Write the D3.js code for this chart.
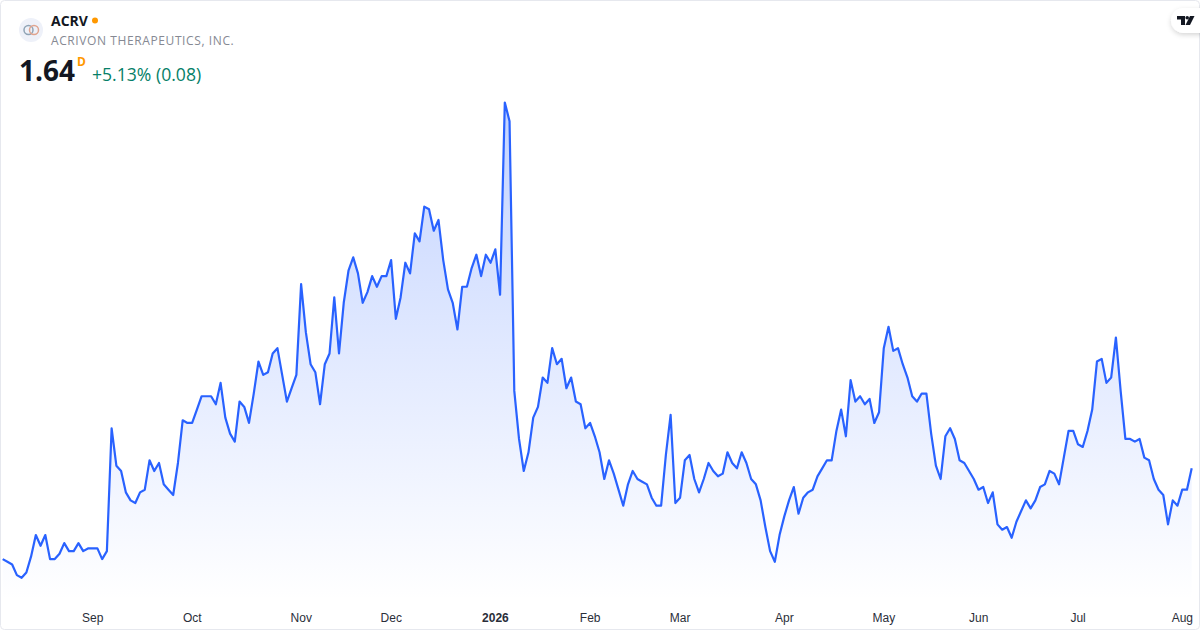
<!DOCTYPE html>
<html>
<head>
<meta charset="utf-8">
<script src="https://cdn.jsdelivr.net/npm/d3@7"></script>
<style>
html, body { margin: 0; padding: 0; background: #fff; }
svg { display: block; font-family: "Open Sans", sans-serif; }
.tick text { font-size: 12px; fill: #2a2e39; }
</style>
</head>
<body>
<div id="chart"></div>
<script>
const width = 1200;
const height = 630;

// daily closes
const closes = [
    1.30, 1.29, 1.28, 1.24, 1.23, 1.25, 1.31, 1.39, 1.35, 1.39,
    1.30, 1.30, 1.32, 1.36, 1.33, 1.33, 1.36, 1.33, 1.34, 1.34,
    1.34, 1.30, 1.33, 1.79, 1.65, 1.63, 1.55, 1.52, 1.51, 1.55,
    1.56, 1.67, 1.63, 1.66, 1.58, 1.56, 1.54, 1.66, 1.82, 1.81,
    1.81, 1.86, 1.91, 1.91, 1.91, 1.88, 1.96, 1.83, 1.77, 1.74,
    1.89, 1.87, 1.81, 1.92, 2.04, 1.99, 2.00, 2.07, 2.09, 1.99,
    1.89, 1.94, 1.99, 2.33, 2.15, 2.03, 2.00, 1.88, 2.03, 2.07,
    2.28, 2.07, 2.26, 2.38, 2.43, 2.37, 2.26, 2.30, 2.36, 2.32,
    2.36, 2.36, 2.42, 2.20, 2.28, 2.41, 2.37, 2.52, 2.49, 2.62,
    2.61, 2.53, 2.57, 2.42, 2.31, 2.26, 2.16, 2.32, 2.32, 2.39,
    2.44, 2.36, 2.44, 2.41, 2.46, 2.29, 3.01, 2.94, 1.93, 1.75,
    1.63, 1.70, 1.83, 1.87, 1.98, 1.96, 2.09, 2.03, 2.05, 1.94,
    1.98, 1.89, 1.88, 1.79, 1.81, 1.76, 1.70, 1.60, 1.67, 1.62,
    1.56, 1.50, 1.58, 1.63, 1.60, 1.59, 1.58, 1.53, 1.50, 1.50,
    1.69, 1.84, 1.51, 1.53, 1.67, 1.69, 1.60, 1.55, 1.60, 1.66,
    1.63, 1.61, 1.62, 1.70, 1.66, 1.64, 1.70, 1.66, 1.60, 1.58,
    1.52, 1.42, 1.33, 1.29, 1.39, 1.46, 1.52, 1.57, 1.47, 1.53,
    1.55, 1.56, 1.61, 1.64, 1.67, 1.67, 1.78, 1.86, 1.76, 1.97,
    1.89, 1.91, 1.88, 1.90, 1.81, 1.85, 2.09, 2.17, 2.08, 2.09,
    2.03, 1.98, 1.91, 1.89, 1.92, 1.92, 1.77, 1.65, 1.60, 1.76,
    1.79, 1.75, 1.67, 1.66, 1.63, 1.60, 1.56, 1.57, 1.51, 1.55,
    1.43, 1.41, 1.42, 1.38, 1.44, 1.48, 1.52, 1.49, 1.52, 1.57,
    1.58, 1.63, 1.62, 1.58, 1.68, 1.78, 1.78, 1.73, 1.72, 1.78,
    1.86, 2.04, 2.05, 1.96, 1.98, 2.13, 1.93, 1.75, 1.75, 1.74,
    1.75, 1.68, 1.67, 1.60, 1.56, 1.54, 1.43, 1.52, 1.50, 1.56,
    1.56, 1.64
];
const monthLabels = ["Sep", "Oct", "Nov", "Dec", "2026", "Feb", "Mar", "Apr", "May", "Jun", "Jul", "Aug"];
const monthIndex = [19, 40, 63, 82, 104, 124, 143, 165, 186, 206, 227, 249];

const x = d3.scaleLinear().domain([0, closes.length - 1]).range([2.67, 1191.7]);
const y = d3.scaleLinear().domain([1, 3]).range([639.2, 105.2]);
const areaBottom = 600;

const svg = d3.select("#chart")
    .append("svg")
    .attr("width", width)
    .attr("height", height);

const defs = svg.append("defs");
const grad = defs.append("linearGradient")
    .attr("id", "area-fill")
    .attr("gradientUnits", "userSpaceOnUse")
    .attr("x1", 0).attr("x2", 0)
    .attr("y1", y(d3.max(closes))).attr("y2", areaBottom);
grad.append("stop").attr("offset", 0).attr("stop-color", "#2962ff").attr("stop-opacity", 0.28);
grad.append("stop").attr("offset", 1).attr("stop-color", "#2962ff").attr("stop-opacity", 0);

const shadow = defs.append("filter").attr("id", "badge-shadow")
    .attr("x", "-40%").attr("y", "-40%").attr("width", "180%").attr("height", "180%");
shadow.append("feDropShadow")
    .attr("dx", 0).attr("dy", 2).attr("stdDeviation", 2.5)
    .attr("flood-color", "#000").attr("flood-opacity", 0.16);

svg.append("path")
    .datum(closes)
    .attr("fill", "url(#area-fill)")
    .attr("d", d3.area().x((d, i) => x(i)).y0(areaBottom).y1(d => y(d)));

svg.append("path")
    .datum(closes)
    .attr("fill", "none")
    .attr("stroke", "#2962ff")
    .attr("stroke-width", 2.2)
    .attr("stroke-linejoin", "round")
    .attr("d", d3.line().x((d, i) => x(i)).y(d => y(d)));

const axis = d3.axisBottom(x)
    .tickValues(monthIndex)
    .tickSize(0)
    .tickPadding(0)
    .tickFormat((d, i) => monthLabels[i]);
const axisG = svg.append("g").attr("transform", "translate(-0.4,613)").call(axis);
axisG.select(".domain").remove();
axisG.selectAll("text")
    .attr("dy", "0.71em")
    .style("font-weight", d => d == 104 ? 700 : 400);

// card border
svg.append("rect")
    .attr("x", 0.5).attr("y", 0.5)
    .attr("width", width - 1).attr("height", height - 1)
    .attr("rx", 4)
    .attr("fill", "none")
    .attr("stroke", "#e6e8ee");

// header
svg.append("circle").attr("cx", 31).attr("cy", 30).attr("r", 12).attr("fill", "#eef1f9");
svg.append("circle").attr("cx", 28.5).attr("cy", 30).attr("r", 4.5).attr("fill", "none").attr("stroke", "#8fa3b5").attr("stroke-width", 1.5);
svg.append("circle").attr("cx", 34).attr("cy", 30).attr("r", 4.5).attr("fill", "none").attr("stroke", "#e0a48f").attr("stroke-width", 1.5);

svg.append("text").text("ACRV")
    .attr("x", 51).attr("y", 25.5)
    .attr("font-size", 14).attr("font-weight", 700).attr("fill", "#131722");
svg.append("circle").attr("cx", 95).attr("cy", 20.5).attr("r", 3).attr("fill", "#ff9800");
svg.append("text").text("ACRIVON THERAPEUTICS, INC.")
    .attr("x", 51).attr("y", 45)
    .attr("font-size", 12).attr("letter-spacing", 0.6).attr("fill", "#868993");
svg.append("text").text("1.64")
    .attr("x", 19).attr("y", 81)
    .attr("font-size", 28).attr("font-weight", 700).attr("fill", "#131722");
svg.append("text").text("D")
    .attr("x", 77).attr("y", 66)
    .attr("font-size", 12).attr("font-weight", 700).attr("fill", "#ff9800");
svg.append("text").text("+5.13% (0.08)")
    .attr("x", 92).attr("y", 81)
    .attr("font-size", 17.6).attr("fill", "#067f68");

// logo badge, top right
svg.append("rect")
    .attr("x", 1171).attr("y", 8)
    .attr("width", 50).attr("height", 25)
    .attr("rx", 12.5)
    .attr("fill", "#fff")
    .attr("filter", "url(#badge-shadow)");
const badge = svg.append("g").attr("transform", "translate(1177,16)").attr("fill", "#131722");
badge.append("path").attr("d", "M0 0H8V9H4V3.5H0Z");
badge.append("circle").attr("cx", 10.2).attr("cy", 1.8).attr("r", 1.8);
badge.append("path").attr("d", "M13 0H17.5L13 9H8.5Z");
</script>
</body>
</html>
